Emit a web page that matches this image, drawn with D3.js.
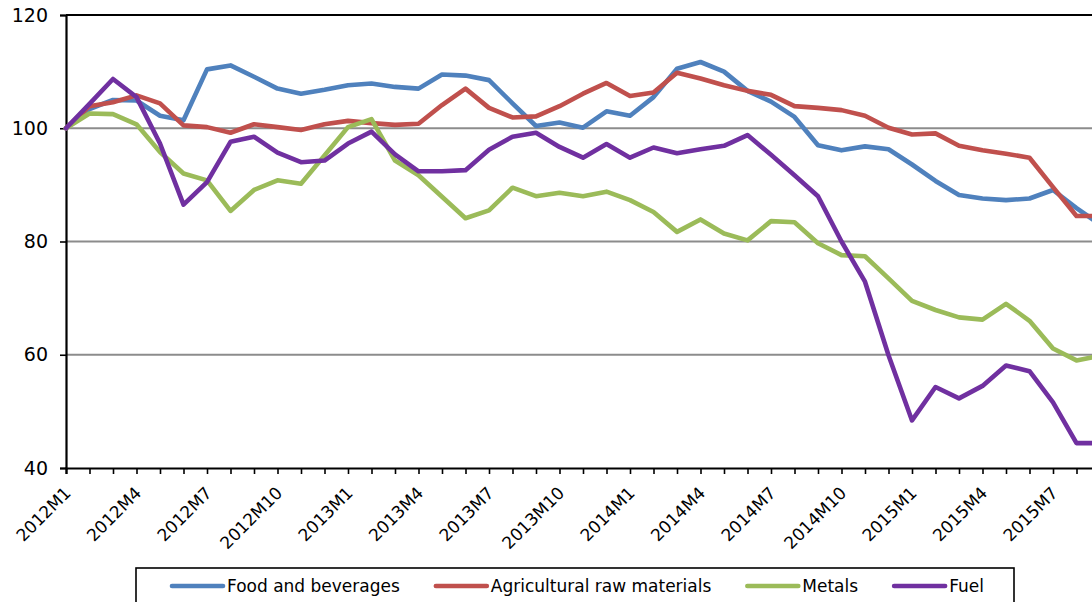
<!DOCTYPE html>
<html>
<head>
<meta charset="utf-8">
<script src="https://cdn.jsdelivr.net/npm/d3@7"></script>
<style>
  html, body { margin: 0; padding: 0; background: #fff; }
  svg { display: block; font-family: "DejaVu Sans", Verdana, sans-serif; }
</style>
</head>
<body>
<svg id="chart" width="1092" height="602"></svg>
<script>
// Monthly commodity price indices, 2012M1 = 100
const periods = [
  "2012M1","2012M2","2012M3","2012M4","2012M5","2012M6","2012M7","2012M8","2012M9","2012M10","2012M11","2012M12",
  "2013M1","2013M2","2013M3","2013M4","2013M5","2013M6","2013M7","2013M8","2013M9","2013M10","2013M11","2013M12",
  "2014M1","2014M2","2014M3","2014M4","2014M5","2014M6","2014M7","2014M8","2014M9","2014M10","2014M11","2014M12",
  "2015M1","2015M2","2015M3","2015M4","2015M5","2015M6","2015M7","2015M8","2015M9"
];

const foodBeverages = [100, 103.4, 105.0, 104.9, 102.2, 101.4, 110.4, 111.1, 109.1, 107.0, 106.1, 106.8,
  107.6, 107.9, 107.3, 107.0, 109.5, 109.3, 108.5, 104.4, 100.4, 101.0, 100.1, 103.0,
  102.2, 105.5, 110.5, 111.7, 110.0, 106.6, 104.7, 102.0, 97.0, 96.1, 96.8, 96.3,
  93.6, 90.7, 88.2, 87.6, 87.3, 87.6, 89.1, 85.9, 83.0];

const agriRawMaterials = [100, 103.9, 104.6, 105.8, 104.4, 100.5, 100.2, 99.2, 100.7, 100.2, 99.7, 100.7,
  101.3, 100.9, 100.6, 100.8, 104.1, 107.0, 103.6, 101.9, 102.1, 103.9, 106.1, 108.0,
  105.7, 106.3, 109.8, 108.8, 107.6, 106.6, 105.9, 103.9, 103.6, 103.2, 102.2, 100.1,
  98.9, 99.1, 96.9, 96.1, 95.5, 94.8, 89.6, 84.5, 84.5];

const metals = [100, 102.6, 102.5, 100.7, 95.8, 92.0, 90.8, 85.4, 89.1, 90.8, 90.2, 95.2,
  100.2, 101.6, 94.3, 91.7, 87.9, 84.1, 85.5, 89.5, 88.0, 88.6, 88.0, 88.8,
  87.3, 85.2, 81.7, 83.9, 81.4, 80.2, 83.6, 83.4, 79.7, 77.6, 77.4, 73.5,
  69.5, 67.9, 66.6, 66.2, 69.0, 66.0, 61.1, 59.0, 59.8];

const fuel = [100, 104.3, 108.7, 105.5, 97.3, 86.5, 90.5, 97.6, 98.5, 95.7, 94.0, 94.3,
  97.3, 99.4, 95.4, 92.4, 92.4, 92.6, 96.2, 98.5, 99.2, 96.7, 94.8, 97.2,
  94.8, 96.6, 95.6, 96.3, 96.9, 98.8, 95.3, 91.7, 88.0, 80.0, 72.9, 59.9,
  48.4, 54.3, 52.3, 54.5, 58.1, 57.1, 51.6, 44.4, 44.4];

const seriesNames = ["Food and beverages", "Agricultural raw materials", "Metals", "Fuel"];
const seriesColors = ["#4f81bd", "#c0504d", "#9bbb59", "#7030a0"];
const yTicks = [40, 60, 80, 100, 120];
const labelledPeriods = periods.filter((p, i) => i % 3 === 0);

const series = [foodBeverages, agriRawMaterials, metals, fuel].map((values, k) => ({
  name: seriesNames[k], color: seriesColors[k], values
}));

const svg = d3.select("#chart");

// plot frame: left edge and month spacing; the plot runs past the right edge of the page
const plotLeft = 66, plotTop = 15, plotBottom = 468, monthStep = 23.5;

const x = d3.scalePoint()
  .domain(periods)
  .range([plotLeft, plotLeft + monthStep * (periods.length - 1)]);

const y = d3.scaleLinear().domain([40, 120]).range([plotBottom, plotTop]);

// horizontal gridlines
svg.append("g")
  .selectAll("line")
  .data(yTicks.filter(t => t > 40 && t < 120))
  .join("line")
  .attr("x1", plotLeft).attr("x2", 1092)
  .attr("y1", d => y(d)).attr("y2", d => y(d))
  .attr("stroke", "#8c8c8c").attr("stroke-width", 2);

// top frame line
svg.append("line")
  .attr("x1", plotLeft).attr("x2", 1092)
  .attr("y1", y(120)).attr("y2", y(120))
  .attr("stroke", "#000").attr("stroke-width", 2);

// y axis
const yAxis = d3.axisLeft(y).tickValues(yTicks).tickSize(6).tickPadding(12).tickFormat(d3.format("d"));
const gy = svg.append("g").attr("transform", `translate(${plotLeft},0)`).call(yAxis);
gy.select(".domain").attr("stroke", "#000").attr("stroke-width", 2.2);
gy.selectAll(".tick line").attr("stroke", "#000").attr("stroke-width", 1.6);
gy.selectAll(".tick text")
  .attr("fill", "#000")
  .style("font-size", "19px")
  .style("font-family", "'DejaVu Sans', Verdana, sans-serif");

// x axis: a tick every month, a label every quarter
const xAxis = d3.axisBottom(x).tickSize(6).tickFormat(() => "");
const gx = svg.append("g").attr("transform", `translate(0,${plotBottom})`).call(xAxis);
gx.select(".domain").attr("stroke", "#000").attr("stroke-width", 2.2);
gx.selectAll(".tick line").attr("stroke", "#000").attr("stroke-width", 1.6);

svg.append("g")
  .selectAll("text")
  .data(labelledPeriods)
  .join("text")
  .attr("transform", d => `translate(${x(d) + 6},${plotBottom + 26}) rotate(-45)`)
  .attr("text-anchor", "end")
  .attr("fill", "#000")
  .style("font-size", "17px")
  .text(d => d);

// series lines
const line = d3.line()
  .x((d, i) => x(periods[i]))
  .y(d => y(d));

svg.append("g")
  .selectAll("path")
  .data(series)
  .join("path")
  .attr("d", d => line(d.values))
  .attr("fill", "none")
  .attr("stroke", d => d.color)
  .attr("stroke-width", 4.6)
  .attr("stroke-linejoin", "round")
  .attr("stroke-linecap", "round");

// legend
const legendTop = 568, legendLeft = 136, legendRight = 1014, legendY = 586;
svg.append("rect")
  .attr("x", legendLeft).attr("y", legendTop)
  .attr("width", legendRight - legendLeft).attr("height", 60)
  .attr("fill", "#fff").attr("stroke", "#000").attr("stroke-width", 1.6);

let cursor = 172;
series.forEach(s => {
  const g = svg.append("g");
  g.append("line")
    .attr("x1", cursor).attr("x2", cursor + 51)
    .attr("y1", legendY).attr("y2", legendY)
    .attr("stroke", s.color).attr("stroke-width", 4.6).attr("stroke-linecap", "round");
  const t = g.append("text")
    .attr("x", cursor + 55).attr("y", legendY)
    .attr("dy", "0.36em")
    .attr("fill", "#000")
    .style("font-size", "17px")
    .text(s.name);
  cursor += 55 + t.node().getComputedTextLength() + 36;
});
</script>
</body>
</html>
